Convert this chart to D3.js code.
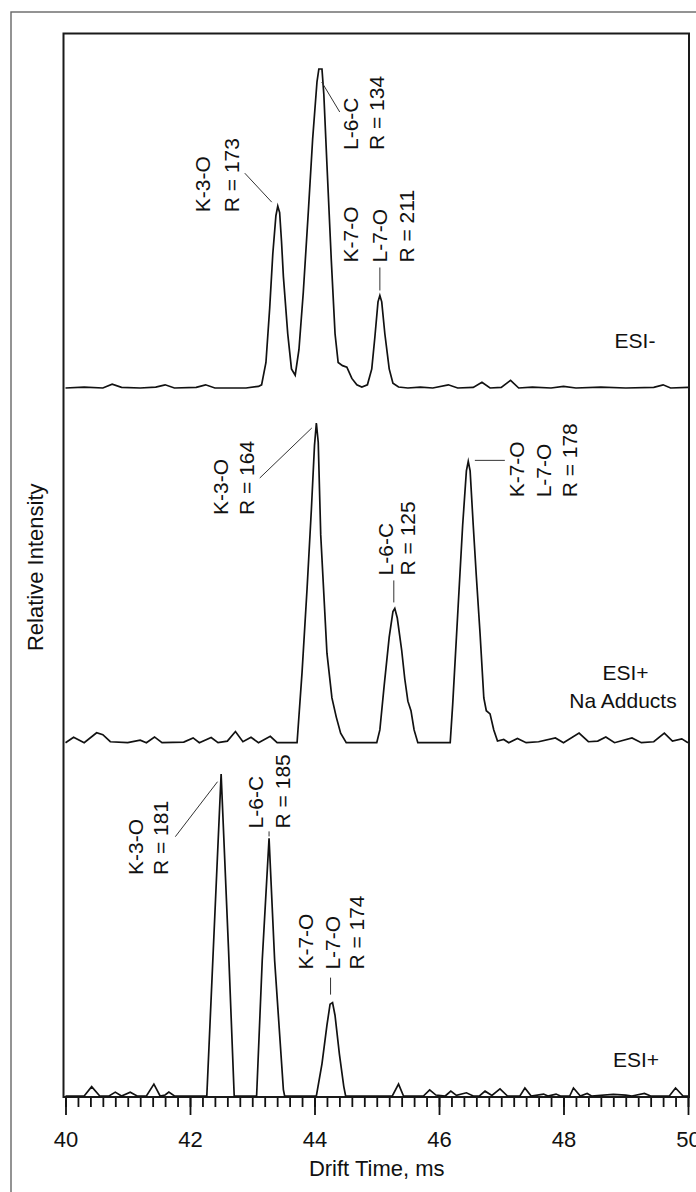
<!DOCTYPE html>
<html>
<head>
<meta charset="utf-8">
<script src="https://cdn.jsdelivr.net/npm/d3@7"></script>
<style>
  body { margin: 0; background: #fff; }
  svg { display: block; }
  text { font-family: "Liberation Sans", Arial, Helvetica, sans-serif; fill: #111; }
</style>
</head>
<body>
<div id="container"></div>
<script>
// drift time (ms) / relative intensity pairs, one trace per ionisation mode
const esiNeg = [
  [40.0,0],[40.3,0.3],[40.6,0],[40.75,1.2],[40.9,0.2],[41.2,0],[41.45,0.3],[41.6,1.0],[41.75,0],
  [42.1,0.2],[42.25,1.0],[42.4,0],[42.9,0],[43.1,0.5],[43.15,1],[43.22,8],[43.28,25],[43.33,42],
  [43.38,54],[43.41,57],[43.44,55],[43.47,46],[43.5,35],[43.57,17],[43.63,6],[43.69,4],[43.75,12],
  [43.82,30],[43.9,55],[43.97,78],[44.04,96],[44.07,100],[44.12,100],[44.15,92],[44.2,70],[44.27,40],
  [44.33,17],[44.38,8],[44.45,7],[44.52,6.5],[44.6,3],[44.68,1],[44.76,0.3],[44.85,1],[44.92,6],
  [44.97,16],[45.02,27],[45.05,29],[45.08,27],[45.13,17],[45.2,6],[45.26,1.5],[45.35,0.3],[45.5,0],
  [45.7,0.3],[45.9,0],[46.15,1],[46.3,0],[46.55,0.2],[46.69,1.8],[46.82,0],[47.0,0.2],[47.15,2.4],
  [47.28,0],[47.5,0.3],[47.8,0],[48.0,0.5],[48.2,0],[48.6,0.3],[49.0,0],[49.45,0.2],[49.6,1.0],
  [49.72,0],[50.0,0.2]
];
const esiPosNa = [
  [40.0,0],[40.13,1.7],[40.3,0],[40.5,3.1],[40.6,2.5],[40.72,0.3],[41.0,0],[41.2,0.8],[41.3,0],
  [41.43,1.8],[41.55,0],[41.9,0.2],[42.05,1.5],[42.15,0],[42.34,1.6],[42.45,0],[42.6,0.5],[42.73,3.5],
  [42.85,0.3],[42.98,1.7],[43.1,0],[43.29,2],[43.4,0],[43.72,0],[43.8,22],[43.88,48],[43.95,73],
  [44.0,93],[44.03,100],[44.06,94],[44.1,65],[44.2,28],[44.28,14],[44.35,8],[44.42,3],[44.51,0],
  [45.0,0],[45.05,4],[45.12,18],[45.2,33],[45.26,41],[45.29,42],[45.33,39],[45.4,29],[45.45,20],
  [45.5,13],[45.55,10],[45.6,4],[45.66,0],[46.18,0],[46.22,12],[46.3,40],[46.38,68],[46.44,85],
  [46.47,88],[46.5,85],[46.55,68],[46.6,52],[46.66,34],[46.72,14],[46.76,10],[46.82,9],[46.88,4],
  [46.94,0.5],[47.04,1],[47.12,0],[47.26,1.3],[47.4,0],[47.6,0.3],[47.87,1.5],[48.0,0],[48.25,3],
  [48.4,0.3],[48.55,0.5],[48.68,1.8],[48.82,0],[49.1,1.5],[49.25,0],[49.45,0.3],[49.62,3],[49.75,0.5],
  [49.9,1.2],[50.0,0]
];
const esiPos = [
  [40.0,0],[40.3,0],[40.42,2.9],[40.55,0],[40.7,0],[40.8,1.2],[40.9,0],[41.04,1.2],[41.15,0],[41.3,0],
  [41.42,3.7],[41.52,0],[41.6,0.3],[41.66,1.2],[41.75,0],[42.27,0],[42.38,48],[42.5,100],[42.62,45],
  [42.71,0],[43.07,0],[43.16,42],[43.27,80],[43.36,42],[43.5,2],[43.52,0],[44.03,0],[44.12,10],
  [44.2,22],[44.25,28.5],[44.29,29],[44.33,25],[44.4,13],[44.47,3],[44.5,0],[45.25,0],[45.35,3.7],
  [45.43,0],[45.75,0],[45.85,1.9],[45.95,0.3],[46.1,0],[46.19,1.5],[46.28,0.2],[46.44,1],[46.55,0],
  [46.65,0],[46.74,1.5],[46.85,0.2],[46.98,2.2],[47.1,0],[47.3,0],[47.38,2.5],[47.48,0],[47.68,0.6],
  [47.75,0],[47.88,0.6],[47.95,0],[48.1,0],[48.16,2.5],[48.27,0],[48.38,0.8],[48.45,0],[48.8,0.5],
  [49.0,0.3],[49.1,0],[49.3,0.8],[49.4,0],[49.7,0],[49.8,2.5],[49.92,0],[50.0,0]
];

const panelNames = ["ESI-", "ESI+ Na", "ESI+"];
const panelLabels = [["ESI-"], ["ESI+", "Na Adducts"], ["ESI+"]];
const traces = [esiNeg, esiPosNa, esiPos];

// peak annotations: panel index, text lines, peak position (ms, intensity)
const annotations = [
  { panel: 0, lines: ["K-3-O", "R = 173"], x: 43.41, y: 57 },
  { panel: 0, lines: ["L-6-C", "R = 134"], x: 44.1, y: 100 },
  { panel: 0, lines: ["K-7-O", "L-7-O", "R = 211"], x: 45.05, y: 29 },
  { panel: 1, lines: ["K-3-O", "R = 164"], x: 44.03, y: 100 },
  { panel: 1, lines: ["L-6-C", "R = 125"], x: 45.29, y: 42 },
  { panel: 1, lines: ["K-7-O", "L-7-O", "R = 178"], x: 46.47, y: 88 },
  { panel: 2, lines: ["K-3-O", "R = 181"], x: 42.5, y: 100 },
  { panel: 2, lines: ["L-6-C", "R = 185"], x: 43.27, y: 80 },
  { panel: 2, lines: ["K-7-O", "L-7-O", "R = 174"], x: 44.29, y: 29 }
];

const majorTicks = [40, 42, 44, 46, 48, 50];
const xTitle = "Drift Time, ms";
const yTitle = "Relative Intensity";

// ---------- layout ----------
const width = 696, height = 1192;
const frame = { left: 63.5, top: 33.5, right: 689, bottom: 1097 };
const fs = 21;
const lineGap = 26.5;
// baseline / top (100 %) pixel rows of each stacked trace
const panelRows = [[388, 69], [742.7, 423], [1096, 774]];
// label placement relative to the peak: column centres dx, bottom dy, leader from/to
const annLayout = [
  { cols: [-75, -46], dy: 6, leader: [[-33, -33], [-6, -4]] },
  { cols: [30, 56], dy: 81, leader: [[1, 13], [19, 43]] },
  { cols: [-29, 0, 26.5], dy: -33, leader: [[0, -28], [0, -5]] },
  { cols: [-96, -70], dy: 92, leader: [[-56.6, 55], [-4.6, 5]] },
  { cols: [-9, 13], dy: -33, leader: [[-1, -28], [-1, -6]] },
  { cols: [48.6, 75.3, 101.6], dy: 36, leader: [[6.6, -1], [36.6, -1]] },
  { cols: [-86, -61], dy: 101, leader: [[-45.8, 62.7], [-3.6, 7.7]] },
  { cols: [-14, 13], dy: -10, leader: [[0, -7], [0, -2]] },
  { cols: [-27, 0, 24], dy: -33, leader: [[-2, -25], [-2, -8]] }
];
const labelPos = [
  [{ x: 635, y: 348 }],
  [{ x: 625.5, y: 680 }, { x: 623, y: 708 }],
  [{ x: 636, y: 1067 }]
];

const svg = d3.select("#container").append("svg")
  .attr("width", width)
  .attr("height", height);

// outer border of the figure
svg.append("rect")
  .attr("x", 11).attr("y", 12)
  .attr("width", width).attr("height", height)
  .attr("fill", "none")
  .attr("stroke", "#666")
  .attr("stroke-width", 1.4);

const x = d3.scaleLinear().domain([40, 50]).range([65.5, 688]);
const yScales = panelRows.map(r => d3.scaleLinear().domain([0, 100]).range(r));

// ticks: minor every 0.2 ms, major every 2 ms
const minorAxis = d3.axisBottom(x)
  .tickValues(d3.range(40, 50.01, 0.2))
  .tickSize(10)
  .tickFormat("");
const majorAxis = d3.axisBottom(x)
  .tickValues(majorTicks)
  .tickSize(18)
  .tickPadding(16)
  .tickFormat(d3.format("d"));

const gMinor = svg.append("g").attr("transform", `translate(0,${frame.bottom})`).call(minorAxis);
const gMajor = svg.append("g").attr("transform", `translate(0,${frame.bottom})`).call(majorAxis);
[gMinor, gMajor].forEach(g => {
  g.select(".domain").remove();
  g.selectAll("line").attr("stroke", "#111").attr("stroke-width", 1.8);
});
gMajor.selectAll("text")
  .attr("font-size", 22)
  .attr("font-family", "Liberation Sans, Arial, sans-serif")
  .attr("fill", "#111");

// plot frame
svg.append("rect")
  .attr("x", frame.left).attr("y", frame.top)
  .attr("width", frame.right - frame.left)
  .attr("height", frame.bottom - frame.top)
  .attr("fill", "none")
  .attr("stroke", "#1a1a1a")
  .attr("stroke-width", 2);

// traces
traces.forEach((tr, i) => {
  const line = d3.line().x(d => x(d[0])).y(d => yScales[i](d[1]));
  svg.append("path")
    .datum(tr)
    .attr("class", "trace " + panelNames[i])
    .attr("d", line)
    .attr("fill", "none")
    .attr("stroke", "#111")
    .attr("stroke-width", 1.7)
    .attr("stroke-linejoin", "miter")
    .attr("stroke-miterlimit", 6);
});

// panel labels
panelLabels.forEach((lines, i) => {
  lines.forEach((t, j) => {
    svg.append("text")
      .attr("x", labelPos[i][j].x)
      .attr("y", labelPos[i][j].y)
      .attr("text-anchor", "middle")
      .attr("font-size", fs)
      .text(t);
  });
});

// peak annotations, rotated, with leader lines
const cap = fs * 0.716;
annotations.forEach((a, i) => {
  const px = x(a.x), py = yScales[a.panel](a.y);
  const lay = annLayout[i];
  const g = svg.append("g").attr("class", "annot");
  a.lines.forEach((t, j) => {
    g.append("text")
      .attr("transform", `translate(${px + lay.cols[j] + cap / 2},${py + lay.dy}) rotate(-90)`)
      .attr("font-size", fs)
      .text(t);
  });
  g.append("line")
    .attr("x1", px + lay.leader[0][0]).attr("y1", py + lay.leader[0][1])
    .attr("x2", px + lay.leader[1][0]).attr("y2", py + lay.leader[1][1])
    .attr("stroke", "#333")
    .attr("stroke-width", 1);
});

// axis titles
svg.append("text")
  .attr("x", (x.range()[0] + x.range()[1]) / 2)
  .attr("y", 1176)
  .attr("text-anchor", "middle")
  .attr("font-size", 22)
  .text(xTitle);
svg.append("text")
  .attr("transform", `translate(43,${(frame.top + frame.bottom) / 2 + 2}) rotate(-90)`)
  .attr("text-anchor", "middle")
  .attr("font-size", 22)
  .text(yTitle);
</script>
</body>
</html>
